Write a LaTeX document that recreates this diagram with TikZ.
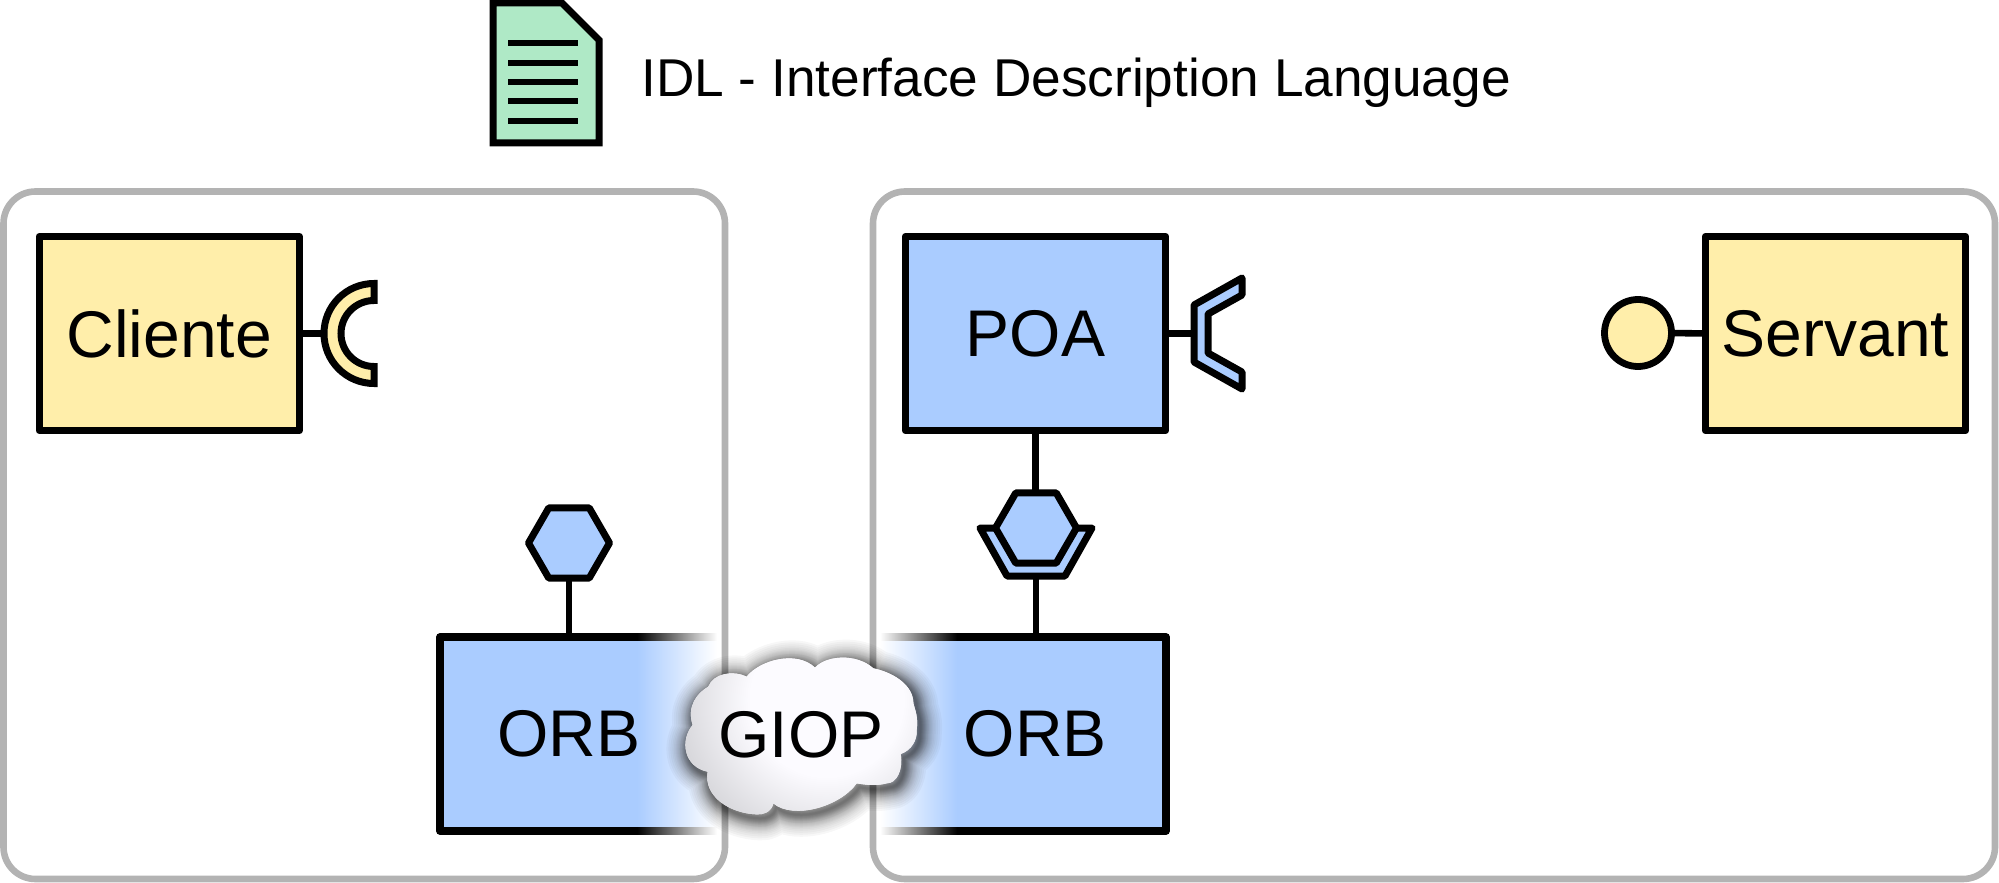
\documentclass[tikz,border=0pt]{standalone}
\usepackage{fontspec}
\setmainfont{Liberation Sans}
\usetikzlibrary{shapes.geometric}
\definecolor{cyellow}{HTML}{FFEEAA}
\definecolor{cblue}{HTML}{AACCFF}
\definecolor{cgreen}{HTML}{AFE9C6}
\definecolor{cgray}{HTML}{B3B3B3}
\definecolor{cloudlight}{HTML}{FCFBFF}
\definecolor{clouddark}{HTML}{CFCFD3}
\pgfdeclareradialshading{cloudshade}{\pgfpoint{0bp}{0bp}}{color(0bp)=(cloudlight);color(11.5bp)=(cloudlight);color(25bp)=(clouddark);color(50bp)=(clouddark)}
\newcommand{\cloudpath}{(320,230) .. controls (360,180) and (470,150) .. (525,203)
 .. controls (560,165) and (650,160) .. (700,205)
 .. controls (750,215) and (820,250) .. (820,310)
 .. controls (825,330) and (835,350) .. (830,390)
 .. controls (832,420) and (815,450) .. (782,462)
 .. controls (790,510) and (770,550) .. (740,550)
 .. controls (710,558) and (680,555) .. (650,550)
 .. controls (600,620) and (460,660) .. (400,610)
 .. controls (395,635) and (370,645) .. (350,643)
 .. controls (270,640) and (190,590) .. (203,515)
 .. controls (130,500) and (120,420) .. (158,375)
 .. controls (140,320) and (170,280) .. (205,260)
 .. controls (220,220) and (280,210) .. (320,230) -- cycle}
\tikzset{
 x=0.5pt,y=-0.5pt,
 lbl/.style={font=\fontsize{33}{40}\selectfont,text=black},
 box/.style={lbl,draw=black,line width=3.7pt,line join=round,inner sep=0pt,outer sep=0pt,minimum width=130pt,minimum height=97pt},
 yellowbox/.style={box,fill=cyellow},
 bluebox/.style={box,fill=cblue},
 plainbox/.style={lbl,inner sep=0pt,outer sep=0pt,minimum width=130pt,minimum height=97pt},
 wire/.style={draw=black,line width=3.3pt},
 symb/.style={draw=black,line width=3.5pt,line join=round},
 frame/.style={draw=cgray,line width=3.3pt,rounded corners=16pt},
 hex/.style={regular polygon,regular polygon sides=6,draw=black,fill=cblue,line width=3.5pt,line join=round,inner sep=0pt,outer sep=0pt,minimum size=40.5pt},
}
\begin{document}
\begin{tikzpicture}
\useasboundingbox (0,0) rectangle (1999,883);
% containers
\draw[frame] (3.5,191.5) rectangle (725,879);
\draw[frame] (873,191.5) rectangle (1995,879);
% document icon
\path[draw=black,fill=cgreen,line width=3.5pt,line join=miter] (493,3) -- (562,3) -- (599,40) -- (599,143) -- (493,143) -- cycle;
\foreach \yy in {43,63,82,101,121} \draw[black,line width=2.9pt] (508,\yy) -- (578,\yy);
\node[lbl,font=\fontsize{26.6}{32}\selectfont,anchor=base west,inner sep=0pt] (idl) at (641,97) {IDL - Interface Description Language};
% boxes
\node[yellowbox] (cliente) at (169.25,333.5) {Cliente};
\node[bluebox] (poa) at (1035.5,333.5) {POA};
\node[yellowbox] (servant) at (1835.5,333.5) {Servant};
% ORB left
\shade[left color=cblue,right color=white] (637,637) rectangle (717,831);
\fill[cblue] (440,637) rectangle (637.5,831);
\shade[left color=black,right color=white] (637,633.4) rectangle (717,640.6);
\shade[left color=black,right color=white] (637,827.4) rectangle (717,834.6);
\draw[black,line width=3.7pt,line join=round] (637,637) -- (440,637) -- (440,831) -- (637,831);
% ORB right
\shade[left color=white,right color=cblue] (880,637) rectangle (957,831);
\fill[cblue] (956.5,637) rectangle (1166,831);
\shade[left color=white,right color=black] (880,633.4) rectangle (957,640.6);
\shade[left color=white,right color=black] (880,827.4) rectangle (957,834.6);
\draw[black,line width=3.7pt,line join=round] (957,637) -- (1166,637) -- (1166,831) -- (957,831);
\node[plainbox] (orbL) at (569,734) {ORB};
\node[plainbox] (orbR) at (1035.5,734) {ORB};
% left provided hexagon
\node[hex] (hexL) at (569,543) {};
\draw[wire] (hexL.south) -- (hexL.south |- orbL.north);
% right hexagon with socket
\path[symb,fill=cblue] (980,528) -- (1007,576) -- (1065,576) -- (1092,528) -- (1074,528) -- (1054,561) -- (1017,561) -- (998,528) -- cycle;
\coordinate (socketB) at (1036,576);
\node[hex] (hexR) at (1036,528) {};
\draw[wire] (poa.south) -- (hexR.north -| poa.south);
\draw[wire] (socketB) -- (socketB |- orbR.north);
% cliente required
\coordinate (reqC) at (324,333.5);
\path[symb,fill=cyellow,line join=miter] (374,283.5) arc[start angle=90,end angle=270,radius=25pt] -- (374,366.5) arc[start angle=270,end angle=90,radius=16.5pt] -- cycle;
\draw[wire] (cliente.east) -- (reqC);
% POA socket
\coordinate (reqP) at (1194,333.5);
\path[symb,fill=cblue] (1194,305) -- (1242,278) -- (1242,295) -- (1208,314) -- (1208,353) -- (1242,372) -- (1242,389) -- (1194,362) -- cycle;
\draw[wire] (poa.east) -- (reqP);
% Servant ball
\node[circle,draw=black,fill=cyellow,line width=3.4pt,inner sep=0pt,outer sep=0pt,minimum size=33.5pt] (ball) at (1638,333) {};
\draw[wire] (ball.east) -- (servant.west);
% cloud
\begin{scope}[shift={(640,600)},x=0.16667pt,y=-0.16667pt]
 \begin{scope}[shift={(9,12)}]
  \foreach \w in {22,20,18,16,14.5,13,12,11,10,9,8.5,8,7,6.5,6,5.5,5,4.5,4,3.5,3,2.5,2,1.5,1}
   \draw[black,opacity=.03,line width=\w pt,line join=round] \cloudpath;
 \end{scope}
 \fill[cloudlight] \cloudpath;
 \begin{scope}
  \clip \cloudpath;
  \path[shading=cloudshade] (560,300) circle[radius=83.3pt];
 \end{scope}
\end{scope}
\node[lbl,inner sep=0pt] (giop) at (801,735) {GIOP};
\end{tikzpicture}
\end{document}
